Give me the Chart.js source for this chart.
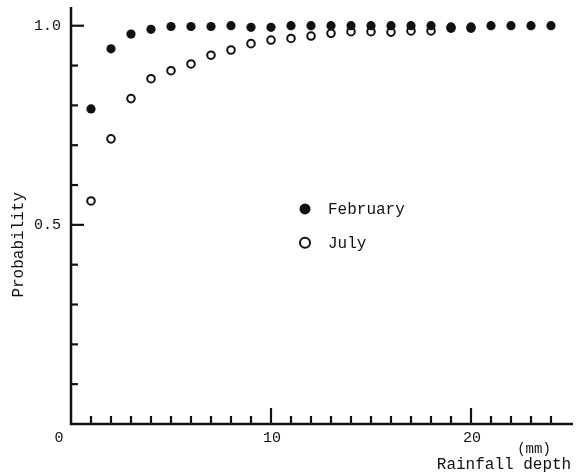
<!DOCTYPE html>
<html>
<head>
<meta charset="utf-8">
<script src="https://cdn.jsdelivr.net/npm/chart.js@4"></script>
<style>
html,body{margin:0;padding:0;background:#fff;}
#wrap{width:582px;height:475px;position:relative;}
</style>
</head>
<body>
<div id="wrap"><canvas id="c" width="582" height="475"></canvas></div>
<script>
// ---- data ----
const depthFeb = [1,2,3,4,5,6,7,8,9,10,11,12,13,14,15,16,17,18,19,20,21,22,23,24];
const february = [0.791,0.942,0.979,0.991,0.998,0.998,0.998,1.0,0.996,0.996,1.0,1.0,1.0,1.0,1.0,1.0,1.0,1.0,0.997,0.997,1.0,1.0,1.0,1.0];
const depthJul = [1,2,3,4,5,6,7,8,9,10,11,12,13,14,15,16,17,18,19,20];
const july = [0.56,0.716,0.817,0.867,0.887,0.904,0.926,0.939,0.955,0.964,0.968,0.974,0.981,0.985,0.985,0.984,0.987,0.987,0.994,0.994];
const xTickLabels = [0, 10, 20];
const yTickLabels = [0.5, 1.0];
const xMinorTicks = [1,2,3,4,5,6,7,8,9,10,11,12,13,14,15,16,17,18,19,20,21,22,23,24];
const yMinorTicks = [0.1,0.2,0.3,0.4,0.5,0.6,0.7,0.8,0.9,1.0];
const legendNames = ["February", "July"];
const xTitle = "Rainfall depth";
const xUnit = "(mm)";
const yTitle = "Probability";

const INK = '#111';
const FONT = '"Liberation Mono", "DejaVu Sans Mono", monospace';

const axesPlugin = {
  id: 'axesPlugin',
  afterDatasetsDraw(chart) {
    const ctx = chart.ctx;
    const xs = chart.scales.x, ys = chart.scales.y;
    const x0 = xs.getPixelForValue(0), y0 = ys.getPixelForValue(0);
    const xEnd = xs.getPixelForValue(xs.max), yTop = ys.getPixelForValue(ys.max);
    ctx.save();
    ctx.strokeStyle = INK;
    ctx.fillStyle = INK;
    ctx.lineCap = 'butt';
    // axis lines
    ctx.lineWidth = 2.5;
    ctx.beginPath();
    ctx.moveTo(x0, yTop);
    ctx.lineTo(x0, y0);
    ctx.lineTo(xEnd, y0);
    ctx.stroke();
    // x ticks (inside)
    ctx.lineWidth = 2.2;
    xMinorTicks.forEach(v => {
      const px = xs.getPixelForValue(v);
      const len = (v % 10 === 0) ? 16 : 8;
      ctx.beginPath();
      ctx.moveTo(px, y0);
      ctx.lineTo(px, y0 - len);
      ctx.stroke();
    });
    // y ticks (inside)
    yMinorTicks.forEach(v => {
      const py = ys.getPixelForValue(v);
      const major = Math.abs(v - 0.5) < 1e-6 || Math.abs(v - 1.0) < 1e-6;
      ctx.beginPath();
      ctx.moveTo(x0, py);
      ctx.lineTo(x0 + (major ? 13 : 7), py);
      ctx.stroke();
    });
    // tick labels
    ctx.font = '15px ' + FONT;
    ctx.textBaseline = 'middle';
    ctx.textAlign = 'center';
    xTickLabels.forEach(v => {
      let px = xs.getPixelForValue(v);
      if (v === 0) px -= 13;
      ctx.fillText(String(v), px + 1, y0 + 14);
    });
    ctx.textAlign = 'right';
    yTickLabels.forEach(v => {
      ctx.fillText(v.toFixed(1), x0 - 10, ys.getPixelForValue(v));
    });
    // axis titles
    ctx.textAlign = 'center';
    ctx.font = '14px ' + FONT;
    ctx.fillText(xUnit, xs.getPixelForValue(23.15), y0 + 25);
    ctx.font = '16px ' + FONT;
    ctx.fillText(xTitle, xs.getPixelForValue(21.65), y0 + 41);
    ctx.save();
    ctx.translate(19, ys.getPixelForValue(0.45));
    ctx.rotate(-Math.PI / 2);
    ctx.fillText(yTitle, 0, 0);
    ctx.restore();
    // legend
    const lx = xs.getPixelForValue(11.7);
    const ly1 = ys.getPixelForValue(0.54), ly2 = ys.getPixelForValue(0.455);
    ctx.beginPath();
    ctx.arc(lx, ly1, 5.5, 0, Math.PI * 2);
    ctx.fill();
    ctx.lineWidth = 2;
    ctx.beginPath();
    ctx.arc(lx, ly2, 5, 0, Math.PI * 2);
    ctx.stroke();
    ctx.textAlign = 'left';
    ctx.fillText(legendNames[0], lx + 23, ly1 + 1);
    ctx.fillText(legendNames[1], lx + 23, ly2 + 1);
    ctx.restore();
  }
};

new Chart(document.getElementById('c'), {
  type: 'scatter',
  data: {
    datasets: [
      {
        label: legendNames[0],
        data: depthFeb.map((d, i) => ({x: d, y: february[i]})),
        pointStyle: 'circle',
        pointRadius: 4.6,
        backgroundColor: INK,
        borderColor: INK,
        borderWidth: 0
      },
      {
        label: legendNames[1],
        data: depthJul.map((d, i) => ({x: d, y: july[i]})),
        pointStyle: 'circle',
        pointRadius: 3.8,
        backgroundColor: '#fff',
        borderColor: INK,
        borderWidth: 2
      }
    ]
  },
  options: {
    responsive: false,
    animation: false,
    layout: { padding: { left: 71, right: 9, top: 7, bottom: 51 } },
    plugins: { legend: { display: false }, tooltip: { enabled: false } },
    scales: {
      x: { type: 'linear', display: false, min: 0, max: 25.1 },
      y: { type: 'linear', display: false, min: 0, max: 1.047 }
    }
  },
  plugins: [axesPlugin]
});
</script>
</body>
</html>
